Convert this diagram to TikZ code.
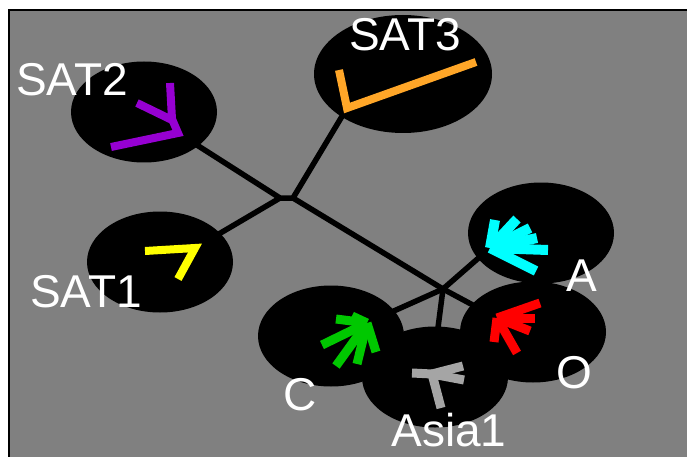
\documentclass[tikz,border=0pt]{standalone}
\usepackage{fontspec}
\setmainfont{Liberation Sans}
\usetikzlibrary{shapes.geometric}

\definecolor{leafpurple}{RGB}{150,0,210}
\definecolor{leaforange}{RGB}{255,166,40}
\definecolor{leafgreen}{RGB}{0,200,0}
\definecolor{leafgray}{RGB}{165,165,165}
\definecolor{leafcyan}{RGB}{0,255,255}
\definecolor{leafred}{RGB}{255,0,0}
\definecolor{leafyellow}{RGB}{255,255,0}

\begin{document}
\begin{tikzpicture}[x=1pt, y=-1pt,
                    cluster/.style={ellipse, fill=black, minimum width=146pt, minimum height=101pt, inner sep=0pt},
                    branch/.style={line width=5.5pt},
                    leaf/.style={line width=8pt},
                    lab/.style={text=white, inner sep=0pt, font=\fontsize{46}{46}\selectfont}]
  \useasboundingbox (0,0) rectangle (687,457);
  \fill[white] (0,0) rectangle (687,457);
  \fill[gray] (9,10) rectangle (687,457);
  \draw[line width=2.5pt] (9,457) |- (687,10);

  % clusters
  \node[cluster] (sattwo) at (144,112) {};
  \node[cluster, minimum width=178pt, minimum height=118pt] (satthree) at (403,74) {};
  \node[cluster] (satone) at (160,262) {};
  \node[cluster] (clA) at (541,233) {};
  \node[cluster] (clC) at (331,336) {};
  \node[cluster] (clO) at (533,332) {};
  \node[cluster] (asia) at (435,377) {};

  % tree
  \coordinate (p) at (280,198);
  \coordinate (q) at (293,198);
  \coordinate (r) at (443,289);
  \coordinate (rootsattwo) at (178,133);
  \coordinate (rootsatone) at (195,248);
  \coordinate (rootsatthree) at (347,108);
  \coordinate (rootA) at (490,248);
  \coordinate (rootC) at (367,323);
  \coordinate (rootasia) at (432,374);
  \coordinate (rootO) at (497,318);
  \draw[branch] (rootsattwo) -- (p) -- (q) -- (rootsatthree);
  \draw[branch] (p) -- (rootsatone);
  \draw[branch] (q) -- (r);
  \draw[branch] (r) -- (rootA);
  \draw[branch] (r) -- (rootC);
  \draw[branch] (r) -- (rootasia);
  \draw[branch] (r) -- (rootO);

  % leaves
  \draw[leaf, leafpurple] (170,83) -- (172,119) -- (rootsattwo) -- (111,147);
  \draw[leaf, leafpurple] (137,103) -- (172,120);
  \draw[leaf, leaforange] (339,70) -- (rootsatthree) -- (476,62);
  \draw[leaf, leafyellow] (145,251) -- (rootsatone) -- (178,279);
  \foreach \e in {(495,220),(517,219),(530,228),(537,238),(548,250),(536,271)}
    \draw[leaf, line width=10pt, leafcyan] (rootA) -- \e;
  \foreach \e in {(322,345),(336,366),(357,364),(376,352),(336,319),(352,316)}
    \draw[leaf, line width=9pt, leafgreen] (rootC) -- \e;
  \foreach \e in {(540,303),(535,318),(530,331),(517,353),(494,342)}
    \draw[leaf, line width=9pt, leafred] (rootO) -- \e;
  \foreach \e in {(412,373),(463,366),(464,380),(441,408)}
    \draw[leaf, line width=9pt, leafgray] (rootasia) -- \e;

  % labels
  \node[lab] (labsattwo) at (72,80) {SAT2};
  \node[lab] (labsatthree) at (405,35) {SAT3};
  \node[lab] (labsatone) at (86,292) {SAT1};
  \node[lab] (labA) at (582,276) {A};
  \node[lab] (labO) at (574,373) {O};
  \node[lab] (labC) at (300,395) {C};
  \node[lab] (labasia) at (449,430) {Asia1};
\end{tikzpicture}
\end{document}
